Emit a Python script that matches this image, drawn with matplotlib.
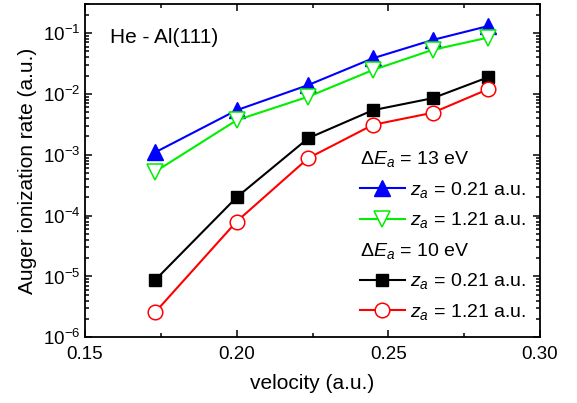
import numpy as np
import matplotlib
matplotlib.use("Agg")
import matplotlib.pyplot as plt
from matplotlib.ticker import LogLocator, FixedLocator, NullFormatter

plt.rcParams['font.family'] = ['Liberation Sans', 'DejaVu Sans']
plt.rcParams['mathtext.fontset'] = 'custom'
plt.rcParams['mathtext.rm'] = 'Liberation Sans'
plt.rcParams['mathtext.it'] = 'Liberation Sans:italic'
plt.rcParams['mathtext.default'] = 'regular'

# velocity (a.u.)
velocity = [0.1732, 0.2000, 0.2236, 0.2449, 0.2646, 0.2828]

# Auger ionization rate (a.u.)
rate_13_021 = [1.10e-3, 5.4e-3, 1.40e-2, 3.85e-2, 7.7e-2, 0.13]
rate_13_121 = [5.3e-4, 3.7e-3, 9.0e-3, 2.47e-2, 5.3e-2, 8.4e-2]
rate_10_021 = [8.8e-6, 2.0e-4, 1.87e-3, 5.4e-3, 8.5e-3, 1.87e-2]
rate_10_121 = [2.6e-6, 8.0e-5, 8.8e-4, 3.1e-3, 4.9e-3, 1.19e-2]

za_021 = r'$\mathit{z}_\mathit{a}$ = 0.21 a.u.'
za_121 = r'$\mathit{z}_\mathit{a}$ = 1.21 a.u.'

fig = plt.figure(figsize=(5.77, 4.03), dpi=100)
ax = fig.add_axes([0.1473, 0.163, 0.7886, 0.827])

lw = 1.5
l1, = ax.plot(velocity, rate_13_021, color='#0000ff', lw=lw, marker='^', ms=11.5,
              mfc='#0000ff', mec='#0000ff', label=za_021)
l2, = ax.plot(velocity, rate_13_121, color='#00ee00', lw=lw, marker='v', ms=11.5,
              mfc='white', mec='#00ee00', mew=1.1, label=za_121)
l3, = ax.plot(velocity, rate_10_021, color='black', lw=lw, marker='s', ms=9,
              mfc='black', mec='black', label=za_021)
l4, = ax.plot(velocity, rate_10_121, color='#ff0000', lw=lw, marker='o', ms=10.5,
              mfc='white', mec='#ff0000', mew=1.1, label=za_121)

ax.set_yscale('log')
ax.set_xlim(0.15, 0.30)
ax.set_ylim(1e-6, 0.3)

ax.xaxis.set_major_locator(FixedLocator([0.15, 0.20, 0.25, 0.30]))
ax.xaxis.set_minor_locator(FixedLocator([0.175, 0.225, 0.275]))
ax.set_xticklabels(['0.15', '0.20', '0.25', '0.30'])
ax.yaxis.set_major_locator(LogLocator(base=10, numticks=20))
ax.yaxis.set_minor_locator(LogLocator(base=10, subs=np.arange(2, 10), numticks=20))
ax.yaxis.set_minor_formatter(NullFormatter())

ax.tick_params(which='both', direction='in', top=True, right=True, labelsize=13.5, width=1.1)
ax.tick_params(which='major', length=5)
ax.tick_params(which='minor', length=3)
ax.tick_params(axis='x', pad=6)
for s in ax.spines.values():
    s.set_linewidth(1.3)

ax.set_xlabel('velocity (a.u.)', fontsize=15, labelpad=8)
ax.set_ylabel('Auger ionization rate (a.u.)', fontsize=15, labelpad=4)

ax.text(0.055, 0.9, 'He - Al(111)', transform=ax.transAxes, fontsize=15,
        ha='left', va='center')

leg_kw = dict(frameon=False, fontsize=14, title_fontsize=14, handlelength=2.3,
              handletextpad=0.3, borderpad=0, labelspacing=0.55, alignment='left',
              loc='upper left', borderaxespad=0)
leg1 = ax.legend(handles=[l1, l2], title=r'$\Delta\mathit{E}_\mathit{a}$ = 13 eV',
                 bbox_to_anchor=(0.604, 0.565), **leg_kw)
ax.add_artist(leg1)
leg2 = ax.legend(handles=[l3, l4], title=r'$\Delta\mathit{E}_\mathit{a}$ = 10 eV',
                 bbox_to_anchor=(0.604, 0.29), **leg_kw)

fig.savefig('out.png', dpi=100)
